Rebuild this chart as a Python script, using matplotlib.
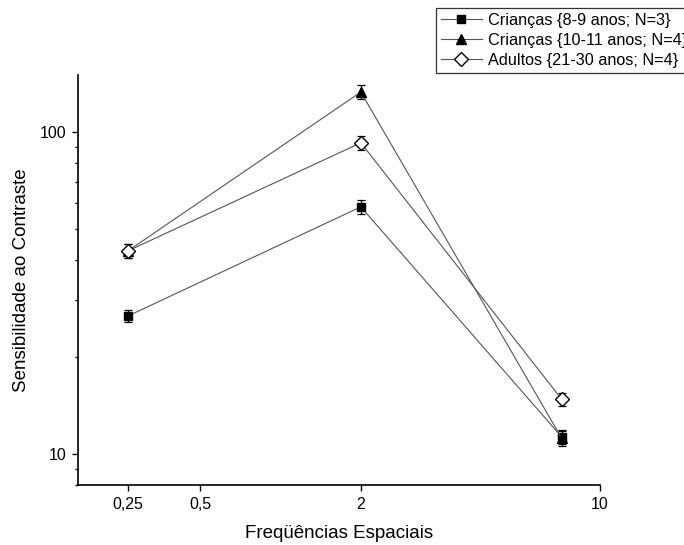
import matplotlib.pyplot as plt
from matplotlib.ticker import NullFormatter, LogLocator

plt.rcParams['font.family'] = ['Liberation Sans', 'DejaVu Sans']

# spatial frequencies (axis drawn with the original's odd tick placement)
freq = [0.25, 2, 12]
tick_pos = [0.25, 0.476, 2, 16.9]
tick_lab = ['0,25', '0,5', '2', '10']

crian_8_9 = [26.8, 58.5, 11.3]
crian_8_9_err = [1.2, 2.8, 0.6]
crian_10_11 = [42.7, 133.0, 11.2]
crian_10_11_err = [2.0, 6.7, 0.6]
adultos = [42.7, 92.5, 14.8]
adultos_err = [2.0, 4.6, 0.7]

fig = plt.figure(figsize=(6.84, 5.45), dpi=100)
ax = fig.add_axes([0.114, 0.110, 0.763, 0.752])

line_kw = dict(color='#555555', lw=0.8, ecolor='black', elinewidth=0.9,
               capsize=3.2, capthick=0.9, markeredgecolor='black')
e1 = ax.errorbar(freq, crian_8_9, yerr=crian_8_9_err, marker='s', ms=6,
                 mfc='black', label='Crianças {8-9 anos; N=3}', **line_kw)
e2 = ax.errorbar(freq, crian_10_11, yerr=crian_10_11_err, marker='^', ms=7,
                 mfc='black', label='Crianças {10-11 anos; N=4}', **line_kw)
e3 = ax.errorbar(freq, adultos, yerr=adultos_err, marker='D', ms=7,
                 mfc='white', label='Adultos {21-30 anos; N=4}', **line_kw)

ax.set_xscale('log')
ax.set_yscale('log')
ax.set_xlim(0.160, 16.9)
ax.set_ylim(8.0, 150)

ax.set_xticks(tick_pos)
ax.set_xticklabels(tick_lab)
ax.xaxis.set_minor_locator(plt.NullLocator())
ax.set_yticks([10, 100])
ax.set_yticklabels(['10', '100'])
ax.yaxis.set_minor_locator(LogLocator(base=10, subs=range(2, 10)))
ax.yaxis.set_minor_formatter(NullFormatter())

ax.tick_params(which='major', direction='out', length=4.3, width=1, labelsize=11.5)
ax.tick_params(which='minor', direction='out', length=2.5, width=1)
ax.tick_params(axis='x', pad=4)
ax.tick_params(axis='y', pad=4)

for s in ['top', 'right']:
    ax.spines[s].set_visible(False)
for s in ['left', 'bottom']:
    ax.spines[s].set_linewidth(1.2)

ax.set_xlabel('Freqüências Espaciais', fontsize=13.5, labelpad=10)
ax.set_ylabel('Sensibilidade ao Contraste', fontsize=13.5, labelpad=7)

handles = [e1.lines[0], e2.lines[0], e3.lines[0]]
labels = [e1.get_label(), e2.get_label(), e3.get_label()]
leg = ax.legend(handles, labels, loc='upper left',
                bbox_to_anchor=(436 / 684, 1 - 8 / 545),
                bbox_transform=fig.transFigure, fontsize=11.7, frameon=True,
                fancybox=False, borderpad=0.3, labelspacing=0.3,
                handlelength=2.5, handletextpad=0.4, borderaxespad=0)
leg.get_frame().set_edgecolor('black')
leg.get_frame().set_linewidth(0.9)

fig.savefig('out.png', dpi=100)
